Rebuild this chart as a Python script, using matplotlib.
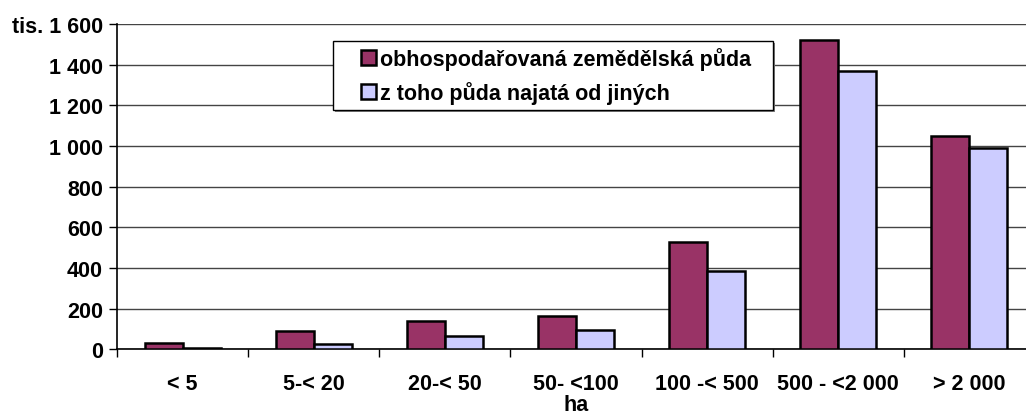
import matplotlib
matplotlib.use("Agg")
import matplotlib.pyplot as plt
from matplotlib.patches import Rectangle
import numpy as np

categories = ["< 5", "5-< 20", "20-< 50", "50- <100", "100 -< 500", "500 - <2 000", "> 2 000"]
obhospodarovana = [31, 89, 141, 162, 528, 1521, 1051]
najata = [4, 28, 67, 95, 387, 1367, 990]
series_names = ["obhospodařovaná zemědělská půda", "z toho půda najatá od jiných"]
yticks = [0, 200, 400, 600, 800, 1000, 1200, 1400, 1600]
ytick_labels = ["0", "200", "400", "600", "800", "1 000", "1 200", "1 400", "tis. 1 600"]

plt.rcParams["font.family"] = ["Liberation Sans", "DejaVu Sans"]
plt.rcParams["font.weight"] = "bold"
fs = 15.5
W, H = 1026, 414

fig = plt.figure(figsize=(W / 100, H / 100), dpi=100)
# plot area runs a little past the right edge, as in the original
ax = fig.add_axes([117 / W, 1 - 350.3 / H, 918 / W, 325.3 / H])

x = np.arange(len(categories))
w = 0.29
b1 = ax.bar(x - w / 2, obhospodarovana, w, color="#993366", edgecolor="black", linewidth=1.8, zorder=3)
b2 = ax.bar(x + w / 2, najata, w, color="#CCCCFF", edgecolor="black", linewidth=1.8, zorder=3)

ax.set_xlim(-0.5, len(categories) - 0.5)
ax.set_ylim(0, 1600)
ax.set_yticks(yticks)
ax.set_yticklabels(ytick_labels, fontsize=fs, fontweight="bold")
ax.yaxis.grid(True, color="#444444", linewidth=1.0, zorder=0)
ax.set_axisbelow(True)

ax.set_xticks(np.arange(len(categories) + 1) - 0.5)
ax.set_xticklabels([])
ax.set_xticks(x, minor=True)
ax.set_xticklabels(categories, minor=True, fontsize=fs, fontweight="bold")
ax.tick_params(axis="x", which="minor", length=0, pad=17)
ax.tick_params(axis="x", which="major", length=6, width=1, color="black")
ax.tick_params(axis="y", length=6, width=1, pad=4)
ax.set_xlabel("ha", fontsize=fs, fontweight="bold", labelpad=0)

for side in ["top", "right"]:
    ax.spines[side].set_visible(False)
ax.spines["left"].set_linewidth(1.2)
ax.spines["bottom"].set_linewidth(1.2)

# legend box, Excel style with a grey shadow
x0, y0, x1, y1 = 333, 42, 773, 111
fig.patches.append(Rectangle(((x0 + 2) / W, 1 - (y1 + 2) / H), (x1 - x0) / W, (y1 - y0) / H,
                             transform=fig.transFigure, facecolor="#808080", edgecolor="none", zorder=5))
fig.patches.append(Rectangle((x0 / W, 1 - y1 / H), (x1 - x0) / W, (y1 - y0) / H,
                             transform=fig.transFigure, facecolor="white", edgecolor="black",
                             linewidth=1.0, zorder=6))

leg = fig.legend([b1, b2], series_names, loc="center left",
                 bbox_to_anchor=(361 / W, 1 - (y0 + y1) / 2 / H),
                 prop={"weight": "bold", "size": fs}, frameon=False,
                 handlelength=0.7, handleheight=0.7, handletextpad=0.2,
                 labelspacing=0.55, borderpad=0, borderaxespad=0)
leg.set_zorder(10)

fig.savefig("out.png", dpi=100)
